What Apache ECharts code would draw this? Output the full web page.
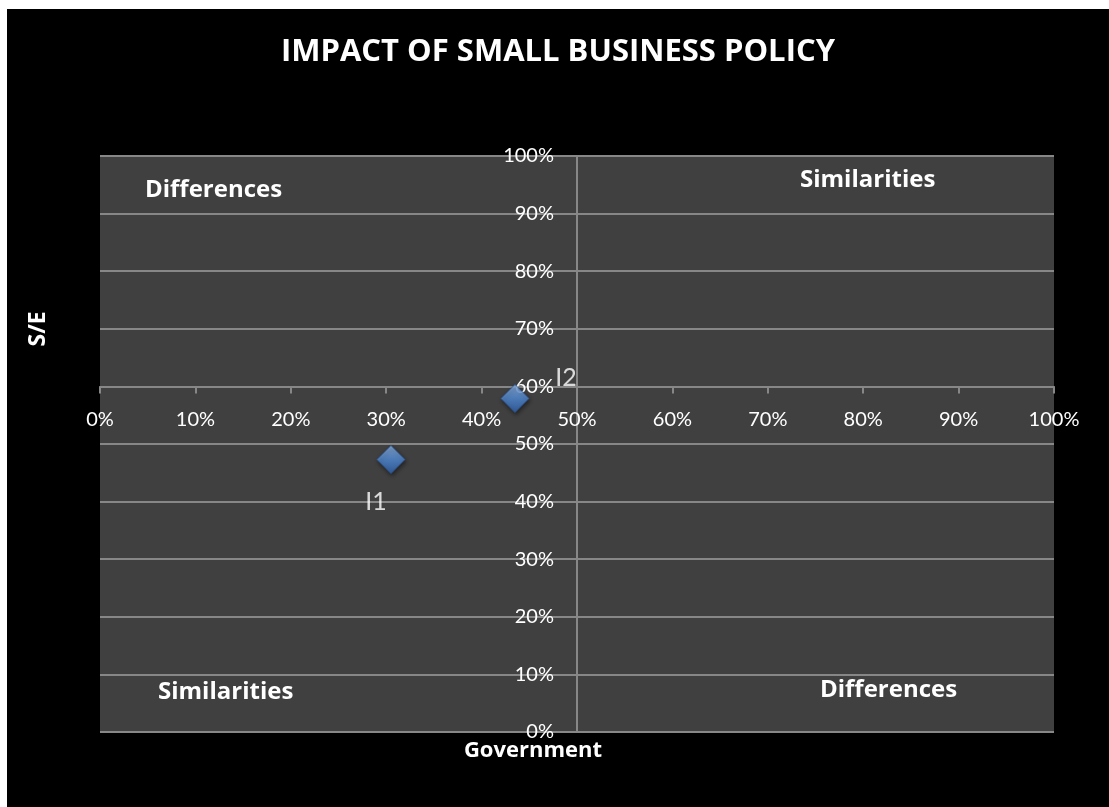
<!DOCTYPE html>
<html>
<head>
<meta charset="utf-8">
<script src="https://cdn.jsdelivr.net/npm/echarts@6/dist/echarts.min.js"></script>
<style>
html,body{margin:0;padding:0;background:#fff;}
#chart{position:absolute;left:7px;top:9px;width:1102px;height:798px;background:#000;}
</style>
</head>
<body>
<div id="chart"></div>
<script>
// ---- data ----
var pointNames = ['I1', 'I2'];
var governmentValues = [0.305, 0.435];
var seValues = [0.473, 0.579];
var quadrantLabels = ['Differences', 'Similarities', 'Similarities', 'Differences'];
var titleText = 'IMPACT OF SMALL BUSINESS POLICY';
var xAxisName = 'Government';
var yAxisName = 'S/E';
var xCrossAt = 0.6;   // x axis drawn at this S/E value
var yCrossAt = 0.5;   // y axis drawn at this Government value

// ---- layout ----
var G = {left: 93, top: 147, width: 954, height: 576};
var FONT = 'Lato, "Open Sans", sans-serif';
var BFONT = '"Open Sans", Lato, sans-serif';
var OX = 7, OY = 9; // chart offset in page

var labelOffsets = [[-15, 42], [51, -21]];
var points = pointNames.map(function (n, i) {
  return {name: n, value: [governmentValues[i], seValues[i]],
    label: {offset: labelOffsets[i]}};
});

var chart = echarts.init(document.getElementById('chart'));
var pct = function (v) { return Math.round(v * 100) + '%'; };
var gridColor = '#878787';

function txt(x, y, s, size, align) {
  return {type: 'text', x: x - OX, y: y - OY,
    style: {text: s, fill: '#fff', font: 'bold ' + size + 'px ' + BFONT,
      align: align || 'left', verticalAlign: 'middle'}};
}

var yName = txt(38, 329, yAxisName, 23, 'center');
yName.rotation = Math.PI / 2;

chart.setOption({
  backgroundColor: '#000',
  animation: false,
  title: {
    text: titleText, left: 'center', top: 23,
    textStyle: {color: '#fff', fontFamily: BFONT, fontWeight: 'bold', fontSize: 31}
  },
  grid: {left: G.left, top: G.top, width: G.width, height: G.height,
    show: true, backgroundColor: '#404040', borderWidth: 0},
  xAxis: {
    type: 'value', min: 0, max: 1, interval: 0.1,
    position: 'bottom', offset: -G.height * xCrossAt,
    axisLine: {onZero: false, lineStyle: {color: gridColor, width: 2}},
    axisTick: {show: true, inside: false, length: 7, lineStyle: {color: gridColor, width: 2}},
    axisLabel: {color: '#fff', fontFamily: FONT, fontSize: 20, margin: 23, formatter: pct},
    splitLine: {show: false}
  },
  yAxis: {
    type: 'value', min: 0, max: 1, interval: 0.1,
    position: 'left', offset: -G.width * yCrossAt,
    axisLine: {show: true, onZero: false, lineStyle: {color: gridColor, width: 2}},
    axisTick: {show: false},
    axisLabel: {color: '#fff', fontFamily: FONT, fontSize: 20, margin: 23, formatter: pct},
    splitLine: {show: true, lineStyle: {color: gridColor, width: 2}}
  },
  graphic: [
    yName,
    txt(533, 751, xAxisName, 22, 'center'),
    txt(145, 190, quadrantLabels[0], 24),
    txt(800, 180, quadrantLabels[1], 24),
    txt(158, 692, quadrantLabels[2], 24),
    txt(820, 690, quadrantLabels[3], 24)
  ],
  series: [{
    type: 'scatter',
    symbol: 'diamond',
    symbolSize: [28, 28],
    data: points,
    itemStyle: {
      color: new echarts.graphic.LinearGradient(0, 0, 0, 1, [
        {offset: 0, color: '#93bbee'},
        {offset: 0.5, color: '#5590dc'},
        {offset: 1, color: '#3465b0'}
      ]),
      borderColor: '#2a5597', borderWidth: 1,
      shadowColor: 'rgba(0,0,0,0.6)', shadowBlur: 4, shadowOffsetX: 1, shadowOffsetY: 2
    },
    label: {show: true, position: 'inside', align: 'center', verticalAlign: 'middle',
      formatter: '{b}', color: '#fff', fontFamily: FONT, fontSize: 25}
  }]
});
</script>
</body>
</html>
